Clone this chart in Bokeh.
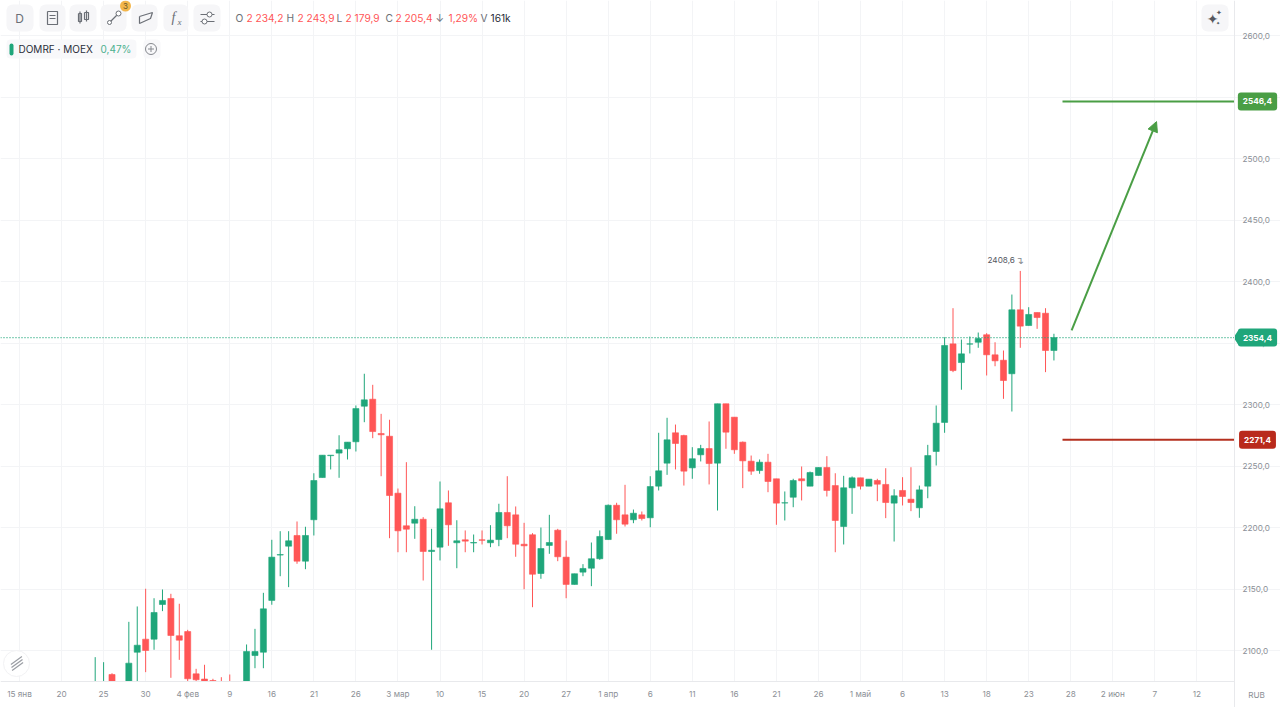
from bokeh.plotting import figure
from bokeh.models import (ColumnDataSource, Range1d, FixedTicker, Label, BoxAnnotation,
                          Arrow, NormalHead)
from bokeh.embed import file_html
from bokeh.resources import INLINE

# ---- data ----
bar_index = list(range(9, 124))
opens = [2055,2060,2080.5,2055,2068,2098.6,2109.2,2109.2,2137.4,2142.3,2112,2115.4,2081,2076.8,2075.6,2070,2068,2050,
 2060,2095.9,2098.6,2140.7,2177.6,2184.8,2193.5,2172.6,2206.3,2240.6,2258.4,2260.5,2264,2269.7,2298.6,2304.3,2276.4,2274.2,
 2227.9,2201.4,2203.5,2206.7,2180.5,2184,2220.1,2187.6,2190,2187.4,2190,2187.6,2190.2,2212.2,2210.3,2186.4,2194.1,2162.6,2185.4,
 2197.8,2175.9,2153.7,2163.7,2166.9,2174.6,2190.2,2218.1,2210.3,2206.3,2210.3,2207.9,2233.6,2252.3,2277,2274.8,2248.5,2259.1,
 2264.2,2252.3,2300.6,2289.7,2269.4,2253.9,2246.3,2253.1,2239.6,2219.9,2224.6,2239.6,2233.6,2242.3,2248.8,2234.1,2200.8,2232.3,
 2240.4,2233.6,2238.2,2235,2219.8,2230.1,2223,2216,2233.6,2261.8,2285.4,2349.3,2334.1,2349.1,2350.6,2356.7,2340.4,2336,2325,
 2377,2364.2,2374.8,2374.2,2343.9]
highs = [2094.6,2090.5,2081.5,2072,2123.3,2135.8,2150.2,2142.5,2149.6,2146.1,2138,2116.8,2085.1,2088.4,2077,2078.3,2080.5,2065,
 2104.9,2117.6,2146.9,2190,2197,2197,2204.9,2200.6,2244.1,2258.8,2258.8,2275,2269.4,2299.2,2325,2316,2292.4,2287.6,
 2231.7,2253.1,2217.3,2208.4,2198.9,2237.4,2230.1,2205.9,2197.6,2194.3,2197.6,2201.9,2219.3,2241.7,2217.1,2203.8,2195.4,2200,2210.3,
 2198.9,2189.4,2162.4,2170.2,2187.8,2197.6,2218.7,2220.1,2234.7,2214.6,2213,2241.7,2277,2289.2,2283.7,2275.4,2265.3,2267.2,
 2286.2,2300.6,2300.6,2289.7,2269.9,2258.5,2255.3,2259.9,2239.6,2229.3,2239.6,2249.6,2245.5,2248.8,2258,2244.1,2242,2241.5,
 2240.4,2239.3,2239.6,2248.2,2231.1,2240.9,2249,2234.1,2267.2,2299.2,2354.7,2378.3,2352.8,2355.3,2358.5,2358,2350.6,2343.9,2389.4,
 2408.6,2379.1,2374.8,2378.3,2357.5]
lows = [2050,2055,2060,2050,2060,2072,2082.4,2100.6,2132,2077.8,2092.4,2075,2075,2068,2060,2055,2050,2045,
 2055,2085.6,2085.6,2137.2,2160.4,2151.5,2170.5,2166.1,2193.5,2240.6,2247.2,2240.4,2255.3,2261.8,2285.6,2272.6,2241.7,2191.3,
 2179.9,2179.9,2190.8,2156.9,2100.6,2173.2,2185.1,2166.9,2179.9,2179.9,2186.2,2184,2184.8,2191.3,2176.2,2149.8,2135.2,2158.3,2178.6,
 2172.6,2142.5,2153.7,2160.4,2152.3,2173.7,2190.2,2194.9,2200.8,2203.5,2205.7,2200.2,2230.1,2242.8,2247.2,2234.1,2239.6,2253.7,
 2235,2213.8,2264,2259.9,2232,2242.8,2243.7,2228.7,2202.2,2205.7,2216.5,2222,2233.6,2242.3,2225.2,2179.9,2186.2,2211.1,
 2230.9,2233.6,2221.4,2207.6,2188.6,2217.9,2213.3,2207.9,2223.8,2250.4,2277,2326.3,2312,2341.5,2346.1,2323.6,2331.1,2304.6,2294.3,
 2346.1,2364.2,2361.5,2326.3,2335.8]
closes = [2070,2072,2065,2068,2089.7,2104.3,2100,2130.9,2140.7,2112.2,2108.4,2077,2076.2,2070,2068,2060,2055,2058,
 2099.2,2099.2,2133.9,2175.9,2178,2189.2,2172.6,2193.5,2238.2,2258.8,2258.8,2263.2,2269.4,2296.7,2303.8,2278,2275.4,2226,
 2197.3,2198.6,2206.7,2180.5,2181.5,2215.2,2202.2,2189.2,2188.9,2187.8,2189.6,2189.7,2212.2,2201.4,2186.4,2185.1,2162,2182.9,2187.8,
 2176.2,2153.7,2162.4,2166.7,2174.6,2192.7,2218.1,2206.3,2202.7,2211.6,2207.3,2233.3,2246.1,2271.3,2268.3,2245.8,2255.9,2264.2,
 2252,2300.6,2277.5,2263.2,2254.2,2245.8,2253.1,2237.4,2219.8,2220.1,2238.2,2238,2244.7,2248.8,2230.1,2205.7,2232.3,2240.4,
 2233.6,2239.3,2235.2,2220.3,2225.8,2225.2,2220.3,2230.6,2258.5,2284.8,2348,2327.6,2341.2,2349.3,2353.7,2340.4,2335.5,2319.5,2377,
 2363.7,2373.2,2370.7,2343.9,2354.4]
date_ticks = [0,5,10,15,20,25,30,35,40,45,50,55,60,65,70,75,80,85,90,95,100,105,110,115,120,125,130,135,140]
date_labels = ["15 янв","20","25","30","4 фев","9","16","21","26","3 мар","10","15","20","27","1 апр","6","11","16","21","26",
               "1 май","6","13","18","23","28","2 июн","7","12"]
price_ticks = [2100,2150,2200,2250,2300,2350,2400,2450,2500,2550,2600]
price_labels = ["2100,0","2150,0","2200,0","2250,0","2300,0","2350,0","2400,0","2450,0","2500,0","2550,0","2600,0"]
last_price = 2354.4
target_price = 2546.4
stop_price = 2271.4
peak_price = 2408.6
arrow_from = (125.1, 2360.2)
arrow_to = (135.2, 2530.0)

GREEN, RED = "#1FA67A", "#FF5656"
FONT = "Inter"

# pixel helpers for the interface decoration around the chart
def X(px): return (px - 19) / 8.41
def Y(py): return 2100 + (650 - py) / 1.23

p = figure(width=1280, height=707, output_backend="svg", toolbar_location=None,
           x_range=Range1d(X(0), X(1280)), y_range=Range1d(Y(707), Y(0)),
           y_axis_location="right", min_border=0, outline_line_color=None,
           background_fill_color="white", tools="")

xa, ya = p.xaxis[0], p.yaxis[0]
xa.fixed_location = Y(681)
ya.fixed_location = X(1234)
xa.bounds = (X(0), X(1234))
ya.bounds = (Y(707), Y(0))
xa.ticker = FixedTicker(ticks=date_ticks)
xa.major_label_overrides = dict(zip(date_ticks, date_labels))
ya.ticker = FixedTicker(ticks=price_ticks)
ya.major_label_overrides = dict(zip(price_ticks, price_labels))
for a in (xa, ya):
    a.major_tick_line_color = None
    a.minor_tick_line_color = None
    a.axis_line_color = "#E8E9EC"
    a.major_label_text_color = "#8C9096"
    a.major_label_text_font = FONT
    a.major_label_text_font_size = "8.2px"
xa.major_label_standoff = 1
ya.major_label_standoff = 2
p.xgrid.grid_line_color = "#F3F4F6"
p.ygrid.grid_line_color = "#F3F4F6"
p.xgrid.bounds = (Y(681), Y(0))
p.ygrid.bounds = (X(0), X(1234))
p.xgrid.level = "underlay"
p.ygrid.level = "underlay"

colors = [GREEN if c >= o else RED for o, c in zip(opens, closes)]
src = ColumnDataSource(dict(x=bar_index, o=opens, h=highs, l=lows, c=closes, col=colors,
                            top=[max(a, b) for a, b in zip(opens, closes)],
                            bot=[min(a, b) for a, b in zip(opens, closes)]))
p.segment("x", "h", "x", "l", source=src, line_color="col", line_width=1)
p.vbar("x", 0.72, "bot", "top", source=src, fill_color="col", line_color="col", line_width=0.6)
# the candles are cut off at the time axis
p.add_layout(BoxAnnotation(left=X(0), right=X(1233), top=Y(681), bottom=Y(707), fill_color="white", fill_alpha=1,
                           line_color=None, level="glyph"))

p.line([X(0), X(1234)], [last_price] * 2, line_color=GREEN, line_dash="1 2", line_width=1.3)
p.line([X(1062), X(1234)], [target_price] * 2, line_color="#4A9E45", line_width=2)
p.line([X(1062), X(1234)], [stop_price] * 2, line_color="#B5301F", line_width=2)
p.add_layout(Arrow(end=NormalHead(size=10, fill_color="#4A9E45", line_color="#4A9E45"),
                   x_start=arrow_from[0], y_start=arrow_from[1], x_end=arrow_to[0], y_end=arrow_to[1],
                   line_color="#4A9E45", line_width=2))

def lab(text, px, py, color="#6B6F76", size=11, align="left", style="normal", font=FONT, **kw):
    l = Label(x=X(px), y=Y(py), text=text, text_color=color, text_font=font,
              text_font_size=f"{size}px", text_align=align, text_baseline="middle",
              text_font_style=style, **kw)
    p.add_layout(l)
    return l

def box(x0, y0, x1, y1, color, r=6):
    p.add_layout(BoxAnnotation(left=X(x0), right=X(x1), top=Y(y0), bottom=Y(y1), fill_color=color, fill_alpha=1,
                               line_color=None, border_radius=r, level="underlay"))

def ln(xs, ys, color="#6B6F76", w=1.2):
    p.line([X(v) for v in xs], [Y(v) for v in ys], line_color=color, line_width=w)

# toolbar buttons
for x0, x1 in [(6, 33), (39, 65), (69, 96), (100, 126), (131, 157), (163, 188), (193, 220)]:
    box(x0, 4, x1, 31, "#F6F6F8")
box(1201, 4, 1228, 31, "#F6F6F8")
box(6, 39, 136, 58, "#F8F8FA", 4)
box(143, 39, 160, 58, "#F8F8FA", 4)

lab("D", 19, 18, size=12, align="center")
ln([47, 57, 57, 47, 47], [11, 11, 24, 24, 11]); ln([49, 55], [15, 15]); ln([49, 55], [18, 18])
ln([78, 78, 81, 81, 78], [13, 21, 21, 13, 13]); ln([84, 84, 88, 88, 84], [12, 19, 19, 12, 12])
ln([79.5, 79.5], [11, 23]); ln([86, 86], [10, 21])
ln([109, 118], [22, 13]); p.scatter([X(118)], [Y(13)], size=5, fill_color="white", line_color="#6B6F76")
p.scatter([X(109)], [Y(22)], size=4, fill_color="white", line_color="#6B6F76")
ln([139, 152, 150, 139, 139], [16, 12, 18, 23, 16])
lab("f", 171, 17, size=14, style="italic", font="Liberation Serif")
lab("x", 177, 21, size=9, style="italic", font="Liberation Serif")
ln([200, 214], [14, 14]); ln([200, 214], [21, 21])
p.scatter([X(209)], [Y(14)], size=5, fill_color="white", line_color="#6B6F76")
p.scatter([X(204)], [Y(21)], size=5, fill_color="white", line_color="#6B6F76")
p.scatter([X(125)], [Y(5.5)], size=11, fill_color="#F3B64B", line_color=None)
lab("3", 125, 5.5, color="#6B5A2A", size=8, align="center")
lab("✦", 1212, 18, color="#55585F", size=14, align="center", font="DejaVu Sans")
lab("✦", 1218.5, 12.5, color="#55585F", size=7, align="center", font="DejaVu Sans")
lab("✦", 1217.5, 22, color="#55585F", size=5, align="center", font="DejaVu Sans")

# OHLC strip
for text, px, col in [("O", 235, "#6B6F76"), ("2 234,2", 246, RED), ("H", 286, "#6B6F76"), ("2 243,9", 297, RED),
                      ("L", 336, "#6B6F76"), ("2 179,9", 345, RED), ("C", 385, "#6B6F76"), ("2 205,4", 395, RED),
                      ("↓", 435, "#6B6F76"), ("1,29%", 448, RED), ("V", 480, "#6B6F76"), ("161k", 490, "#2A2E39")]:
    lab(text, px, 17.5, color=col, size=10.2)

# instrument chip
box(9, 43, 13, 55, GREEN, 2)
lab("DOMRF · MOEX", 18, 48.5, color="#2A2E39", size=10)
lab("0,47%", 100, 48.5, color="#4CB08F", size=10)
p.scatter([X(150.5)], [Y(48.5)], size=11, fill_color=None, line_color="#85888E")
p.scatter([X(150.5)], [Y(48.5)], size=6, marker="cross", line_color="#85888E")

# peak note
lab("2408,6", 987, 259, color="#55585F", size=8.2)
lab("↴", 1015, 260, color="#85888E", size=10, font="DejaVu Sans")

# price tags
p.patch([X(1233), X(1238), X(1238)], [last_price, Y(337) + 6, Y(337) - 6], fill_color=GREEN, line_color=None)
for price, text, col in [(target_price, "2546,4", "#4A9E45"), (last_price, "2354,4", GREEN), (stop_price, "2271,4", "#B92A1C")]:
    p.add_layout(Label(x=X(1257), y=price, text=text, text_color="white",
                       text_font=FONT, text_font_size="8.2px",
                       text_font_style="bold", text_align="center", text_baseline="middle",
                       background_fill_color=col, border_radius=3, padding=(5, 6)))

lab("RUB", 1256, 694, color="#8C9096", size=8.2, align="center")

# corner drawing-tools button
p.scatter([X(16)], [Y(663)], size=26, fill_color="white", line_color="#F2F2F4")
for d in (-3, 0, 3):
    ln([11 + d * 0.2, 22 + d * 0.2], [667 + d, 659 + d], color="#9A9DA3", w=1.2)

open("out.html", "w").write(file_html(p, INLINE))
